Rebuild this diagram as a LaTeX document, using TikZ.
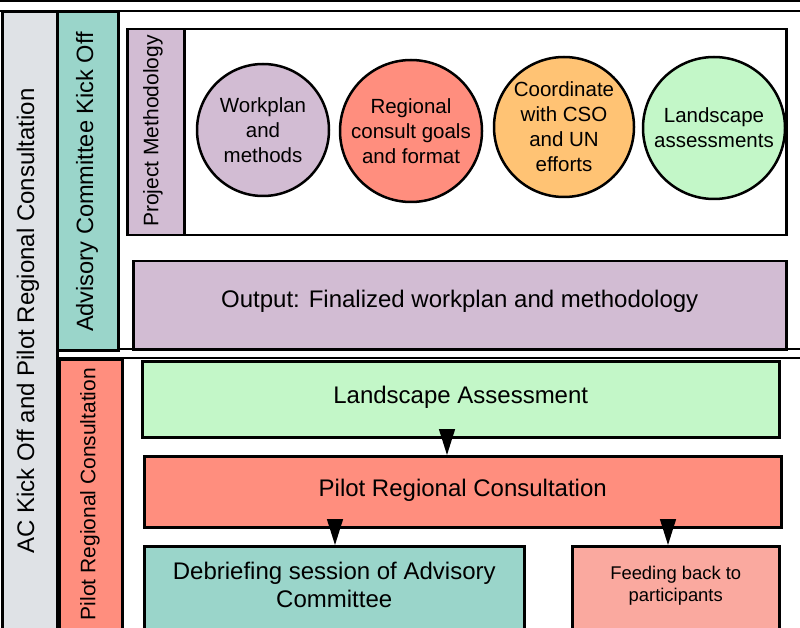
\documentclass[tikz,border=0pt]{standalone}
\usepackage{fontspec}
\setmainfont{Liberation Sans}
\usetikzlibrary{arrows.meta,calc}
\definecolor{poolgrey}{HTML}{DFE2E6}
\definecolor{tealc}{HTML}{9AD5CA}
\definecolor{purplec}{HTML}{D2BCD3}
\definecolor{redc}{HTML}{FF8E7E}
\definecolor{orangec}{HTML}{FFC374}
\definecolor{greenc}{HTML}{C3F7C8}
\definecolor{pinkc}{HTML}{FAA99F}
\begin{document}
\begin{tikzpicture}[x=1pt,y=-1pt,
  lw/.style={line width=2.6pt},
  rbox/.style={draw=black, line width=2.5pt, inner sep=0pt, anchor=north west},
  lbl/.style={align=center, inner sep=0pt, font=\fontsize{24}{28}\selectfont},
  vlbl/.style={rotate=90, inner sep=0pt, font=\fontsize{24}{28}\selectfont},
  circ/.style={circle, draw=black, line width=2.5pt, inner sep=0pt, align=center, font=\fontsize{20.5}{25}\selectfont},
  arr/.style={-{Triangle[width=16pt,length=26pt]}, line width=1.5pt}
]
\useasboundingbox (0,0) rectangle (800,628);
\clip (0,0) rectangle (800,628);
\fill[white] (0,0) rectangle (800,628);

% previous pool edge
\draw[lw] (0,1) -- (800,1);
\draw[lw] (56,-2) -- (56,1);

% pool label
\node[rbox, fill=poolgrey, minimum width=55pt, minimum height=660pt] (pool) at (1,11) {};
\node[vlbl] (pooltxt) at (28,321) {AC Kick Off and Pilot Regional Consultation};

% lane lines
\draw[lw] (0,11) -- (800,11);
\draw[lw] (56,349) -- (800,349);
\draw[lw] (58,358) -- (800,358);

% lane 1
\node[rbox, fill=tealc, minimum width=61pt, minimum height=338pt] (lane1) at (56,11) {};
\node[vlbl, font=\fontsize{23.6}{28}\selectfont] (lane1txt) at (87,182) {Advisory Committee Kick Off};

% lane 2
\node[rbox, fill=redc, minimum width=63pt, minimum height=300pt] (lane2) at (58,358) {};
\node[vlbl, font=\fontsize{21}{25}\selectfont] (lane2txt) at (90,494) {Pilot Regional Consultation};

% project methodology group
\node[rbox, fill=white, minimum width=659pt, minimum height=206pt] (pm) at (126,28) {};
\node[rbox, fill=purplec, minimum width=57pt, minimum height=206pt] (pmstrip) at (126,28) {};
\node[vlbl, font=\fontsize{21}{25}\selectfont] (pmtxt) at (153,131) {Project Methodology};

\node[circ, fill=purplec, minimum size=132pt] (c1) at (263,130) {Workplan\\and\\methods};
\node[circ, fill=redc, minimum size=142pt] (c2) at (411,131) {Regional\\consult goals\\and format};
\node[circ, fill=orangec, minimum size=140pt] (c3) at (564,127) {Coordinate\\with CSO\\and UN\\efforts};
\node[circ, fill=greenc, minimum size=142pt] (c4) at (714,128) {Landscape\\assessments};

% output
\node[rbox, fill=purplec, minimum width=653pt, minimum height=88pt] (out) at (132,260) {};
\node[lbl] (outtxt) at ($(out.center)+(0,-4)$) {Output: Finalized workplan and methodology};

% lane 2 content
\node[rbox, fill=greenc, minimum width=637pt, minimum height=76pt] (land) at (141,360) {};
\node[lbl] (landtxt) at ($(land.center)+(0,-2)$) {Landscape Assessment};

\node[rbox, fill=redc, minimum width=637pt, minimum height=71pt] (pilot) at (143,455) {};
\node[lbl] (pilottxt) at ($(pilot.center)+(0,-1)$) {Pilot Regional Consultation};

\node[rbox, fill=tealc, minimum width=380pt, minimum height=120pt] (deb) at (143,545) {};
\node[lbl] (debtxt) at ($(deb.north)+(0,40)$) {Debriefing session of Advisory\\Committee};

\node[rbox, fill=pinkc, minimum width=207pt, minimum height=120pt] (feed) at (571,545) {};
\node[lbl, font=\fontsize{18.4}{22}\selectfont] (feedtxt) at ($(feed.north)+(0,41)$) {Feeding back to\\participants};

% connectors
\coordinate (ax1) at (447,0);
\coordinate (ax2) at (335,0);
\coordinate (ax3) at (668,0);
\draw[arr] ($(land.south -| ax1)+(0,-9)$) -- (pilot.north -| ax1);
\draw[arr] ($(pilot.south -| ax2)+(0,-8)$) -- (deb.north -| ax2);
\draw[arr] ($(pilot.south -| ax3)+(0,-8)$) -- (feed.north -| ax3);
\end{tikzpicture}
\end{document}
